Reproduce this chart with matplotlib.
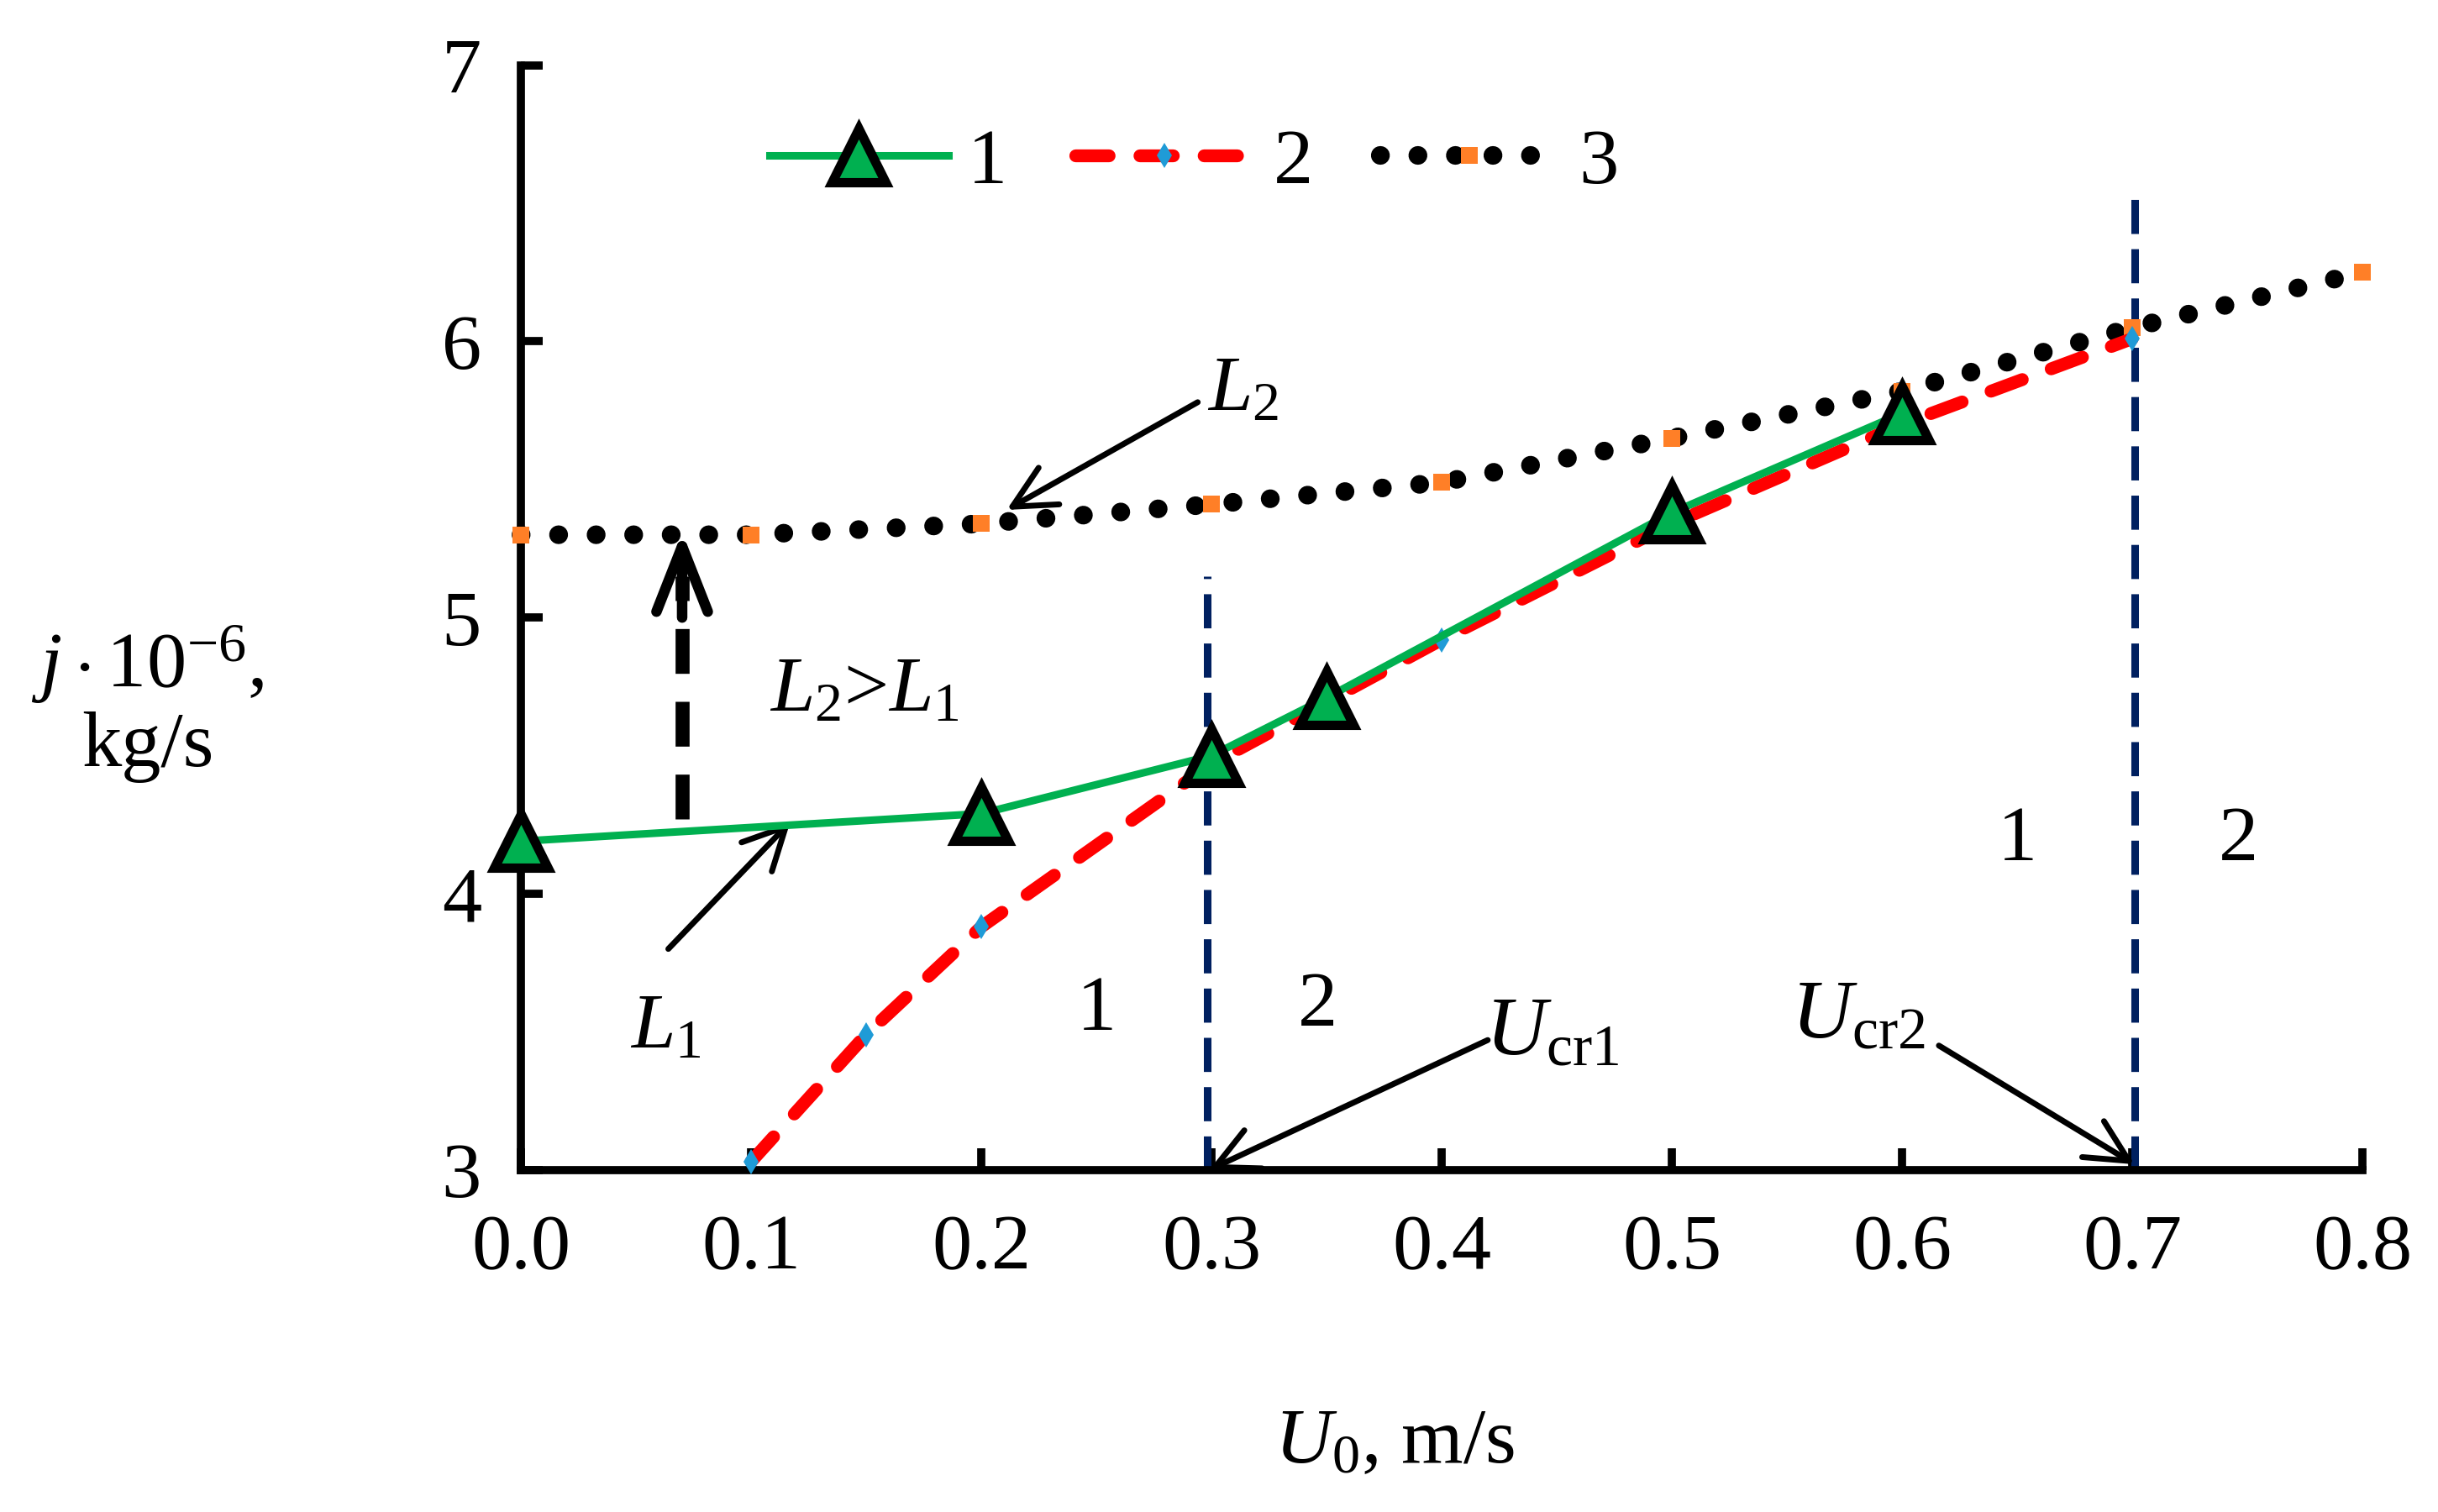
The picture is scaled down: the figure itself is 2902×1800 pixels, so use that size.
import matplotlib
matplotlib.use("Agg")
import matplotlib.pyplot as plt
from matplotlib.lines import Line2D

plt.rcParams['font.family'] = ['Liberation Serif', 'DejaVu Serif']
plt.rcParams['mathtext.fontset'] = 'custom'
plt.rcParams['mathtext.rm'] = 'Liberation Serif'
plt.rcParams['mathtext.it'] = 'Liberation Serif:italic'

# curve 1 (green, triangles)
x1 = [0.0, 0.2, 0.3, 0.35, 0.5, 0.6]
y1 = [4.19, 4.29, 4.50, 4.71, 5.38, 5.74]
# curve 2 (red dashed, blue diamonds)
x2 = [0.1, 0.15, 0.2, 0.3, 0.4, 0.5, 0.6, 0.7]
y2 = [3.03, 3.49, 3.88, 4.47, 4.92, 5.34, 5.70, 6.01]
# curve 3 (black dotted, orange squares)
x3 = [0.0, 0.1, 0.2, 0.3, 0.4, 0.5, 0.6, 0.7, 0.8]
y3 = [5.30, 5.30, 5.34, 5.41, 5.49, 5.65, 5.82, 6.05, 6.25]

u_cr = [0.298, 0.701]
u_cr_top = [5.15, 6.53]

xticks = [0.0, 0.1, 0.2, 0.3, 0.4, 0.5, 0.6, 0.7, 0.8]
yticks = [3, 4, 5, 6, 7]

fs = 68
fig = plt.figure(figsize=(29.02, 18), dpi=100)
ax = fig.add_axes([0.2137, 0.2263, 0.7553, 0.7305])

green = '#00b050'
navy = '#002060'

for xc, yt in zip(u_cr, u_cr_top):
    ax.plot([xc, xc], [3, yt], color=navy, lw=6.5, linestyle=(0, (4.5, 2.0)), zorder=2)

ax.plot(x3, y3, color='black', lw=16, linestyle=(0, (0.01, 2.0)),
        dash_capstyle='round', marker='s', markersize=15, markerfacecolor='#ff7f27',
        markeredgewidth=0, clip_on=False, zorder=3)
ax.plot(x2, y2, color='red', lw=11, linestyle=(0, (2.6, 2.4)), dash_capstyle='round',
        marker='d', markersize=15, markerfacecolor='#1f9bd7', markeredgewidth=0,
        clip_on=False, zorder=4)
ax.plot(x1, y1, color=green, lw=6.5, marker='^', markersize=46,
        markerfacecolor=green, markeredgecolor='black', markeredgewidth=8,
        clip_on=False, zorder=5)

ax.set_xlim(0, 0.8)
ax.set_ylim(3, 7)
ax.set_xticks(xticks)
ax.set_xticklabels([f"{v:.1f}" for v in xticks])
ax.set_yticks(yticks)
for s in ['top', 'right']:
    ax.spines[s].set_visible(False)
for s in ['left', 'bottom']:
    ax.spines[s].set_linewidth(7)
ax.tick_params(axis='both', direction='in', length=19, width=7, labelsize=fs)
ax.tick_params(axis='x', pad=38)
ax.tick_params(axis='y', pad=34)

# legend
h1 = Line2D([], [], color=green, lw=6.5, marker='^', markersize=46,
            markerfacecolor=green, markeredgecolor='black', markeredgewidth=8)
h2 = Line2D([], [], color='red', lw=11, linestyle=(0, (2.6, 2.4)), dash_capstyle='round',
            marker='d', markersize=15, markerfacecolor='#1f9bd7', markeredgewidth=0)
h3 = Line2D([], [], color='black', lw=16, linestyle=(0, (0.01, 2.0)), dash_capstyle='round',
            marker='s', markersize=15, markerfacecolor='#ff7f27', markeredgewidth=0)
ax.legend([h1, h2, h3], ['1', '2', '3'], ncol=3, frameon=False, fontsize=fs,
          loc='center left', bbox_to_anchor=(0.135, 0.911), borderaxespad=0,
          borderpad=0, handlelength=2.25, handletextpad=0.25, columnspacing=0.85)

# annotations
arr = dict(arrowstyle='->,head_length=0.9,head_width=0.45', lw=5, color='black',
           shrinkA=0, shrinkB=0, mutation_scale=40)
ax.text(0.298, 5.82, '$\\mathit{L}_2$', fontsize=fs, ha='left', va='center')
ax.annotate('', xy=(0.211, 5.39), xytext=(0.294, 5.78), arrowprops=arr)
ax.text(0.063, 3.51, '$\\mathit{L}_1$', fontsize=fs, ha='center', va='center')
ax.annotate('', xy=(0.117, 4.26), xytext=(0.064, 3.80), arrowprops=arr)
ax.text(0.149, 4.73, '$\\mathit{L}_2$>$\\mathit{L}_1$', fontsize=fs, ha='center', va='center')

ax.plot([0.07, 0.07], [4.27, 5.15], color='black', lw=12, linestyle=(0, (3.2, 2.0)), zorder=6)
ax.annotate('', xy=(0.07, 5.31), xytext=(0.07, 5.0),
            arrowprops=dict(arrowstyle='->,head_length=1.4,head_width=0.55', lw=9,
                            color='black', shrinkA=0, shrinkB=0, mutation_scale=40,
                            capstyle='round'), zorder=6)

ax.text(0.25, 3.575, '1', fontsize=fs, ha='center', va='center')
ax.text(0.346, 3.59, '2', fontsize=fs, ha='center', va='center')
ax.text(0.650, 4.19, '1', fontsize=fs, ha='center', va='center')
ax.text(0.746, 4.19, '2', fontsize=fs, ha='center', va='center')

ax.text(0.448, 3.49, '$\\mathit{U}_{\\mathrm{cr1}}$', fontsize=fs + 4, ha='center', va='center')
ax.annotate('', xy=(0.299, 3.0), xytext=(0.42, 3.47), arrowprops=arr, annotation_clip=False)
ax.text(0.581, 3.55, '$\\mathit{U}_{\\mathrm{cr2}}$', fontsize=fs + 4, ha='center', va='center')
ax.annotate('', xy=(0.701, 3.02), xytext=(0.616, 3.45), arrowprops=arr, annotation_clip=False)

fig.text(0.0606, 0.535, '$\\mathit{j}\\cdot10^{-6}$,\nkg/s', fontsize=fs,
         ha='center', va='center', linespacing=1.1)
fig.text(0.572, 0.045, '$\\mathit{U}_0$, m/s', fontsize=fs, ha='center', va='center')

fig.savefig('out.png', dpi=100)
